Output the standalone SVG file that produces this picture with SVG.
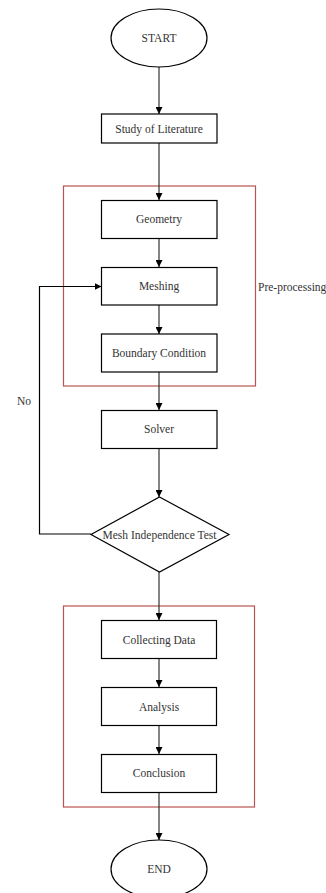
<svg xmlns="http://www.w3.org/2000/svg" width="326" height="893" viewBox="0 0 326 893">
<defs>
<marker id="arr" viewBox="0 0 10 10" refX="10" refY="5" markerWidth="7" markerHeight="7" markerUnits="userSpaceOnUse" orient="auto">
<path d="M0,0 L10,5 L0,10 z" fill="#000"/>
</marker>
<style>
.box{fill:#fff;stroke:#000;stroke-width:1.2}
.grp{fill:none;stroke:#b85450;stroke-width:1.2}
.edge{fill:none;stroke:#333;stroke-width:1.2;marker-end:url(#arr)}
.loop{fill:none;stroke:#000;stroke-width:1.2;marker-end:url(#arr)}
text{font-family:"Liberation Serif","Times New Roman",serif;font-size:11.5px;fill:#333;text-anchor:middle;dominant-baseline:central}
</style>
</defs>
<rect width="326" height="893" fill="#fff"/>
<g id="group-preprocessing">
<rect class="grp" x="63.5" y="186" width="192" height="200"/>
<text x="258" y="287" style="text-anchor:start">Pre-processing</text>
</g>
<g id="group-post">
<rect class="grp" x="63.5" y="606" width="191" height="201"/>
</g>
<g id="connectors">
<line class="edge" x1="159" y1="67" x2="159" y2="114"/>
<line class="edge" x1="159" y1="143" x2="159" y2="200"/>
<line class="edge" x1="159" y1="238" x2="159" y2="267"/>
<line class="edge" x1="159" y1="305" x2="159" y2="334"/>
<line class="edge" x1="159" y1="372" x2="159" y2="410"/>
<line class="edge" x1="159" y1="449" x2="159" y2="497"/>
<line class="edge" x1="159" y1="572" x2="159" y2="620"/>
<line class="edge" x1="159" y1="659" x2="159" y2="687"/>
<line class="edge" x1="159" y1="726" x2="159" y2="754"/>
<line class="edge" x1="159" y1="792" x2="159" y2="840"/>
<polyline class="loop" points="91,534 39.5,534 39.5,286.5 101.5,286.5"/>
<text x="24" y="401">No</text>
</g>
<g id="start">
<ellipse class="box" cx="159" cy="38" rx="48" ry="29"/>
<text x="159" y="38">START</text>
</g>
<g id="study">
<rect class="box" x="101.5" y="114" width="115.5" height="29"/>
<text x="159" y="129">Study of Literature</text>
</g>
<g id="geometry">
<rect class="box" x="101.5" y="200.5" width="115.5" height="38"/>
<text x="159" y="219">Geometry</text>
</g>
<g id="meshing">
<rect class="box" x="101.5" y="267.5" width="115.5" height="37.5"/>
<text x="159" y="286">Meshing</text>
</g>
<g id="boundary">
<rect class="box" x="101.5" y="334" width="115.5" height="38"/>
<text x="159" y="353">Boundary Condition</text>
</g>
<g id="solver">
<rect class="box" x="101.5" y="410.5" width="115.5" height="38"/>
<text x="159" y="429">Solver</text>
</g>
<g id="mesh-test">
<polygon class="box" points="159.5,497 229,534.5 159.5,572 91,534.5"/>
<text x="159.5" y="534.5">Mesh Independence Test</text>
</g>
<g id="collecting">
<rect class="box" x="101.5" y="620.5" width="115" height="38"/>
<text x="159" y="639.5">Collecting Data</text>
</g>
<g id="analysis">
<rect class="box" x="101.5" y="687.5" width="115" height="38"/>
<text x="159" y="706.5">Analysis</text>
</g>
<g id="conclusion">
<rect class="box" x="101.5" y="754.5" width="115" height="38"/>
<text x="159" y="773">Conclusion</text>
</g>
<g id="end">
<ellipse class="box" cx="159" cy="869" rx="48" ry="29"/>
<text x="159" y="869">END</text>
</g>
</svg>
